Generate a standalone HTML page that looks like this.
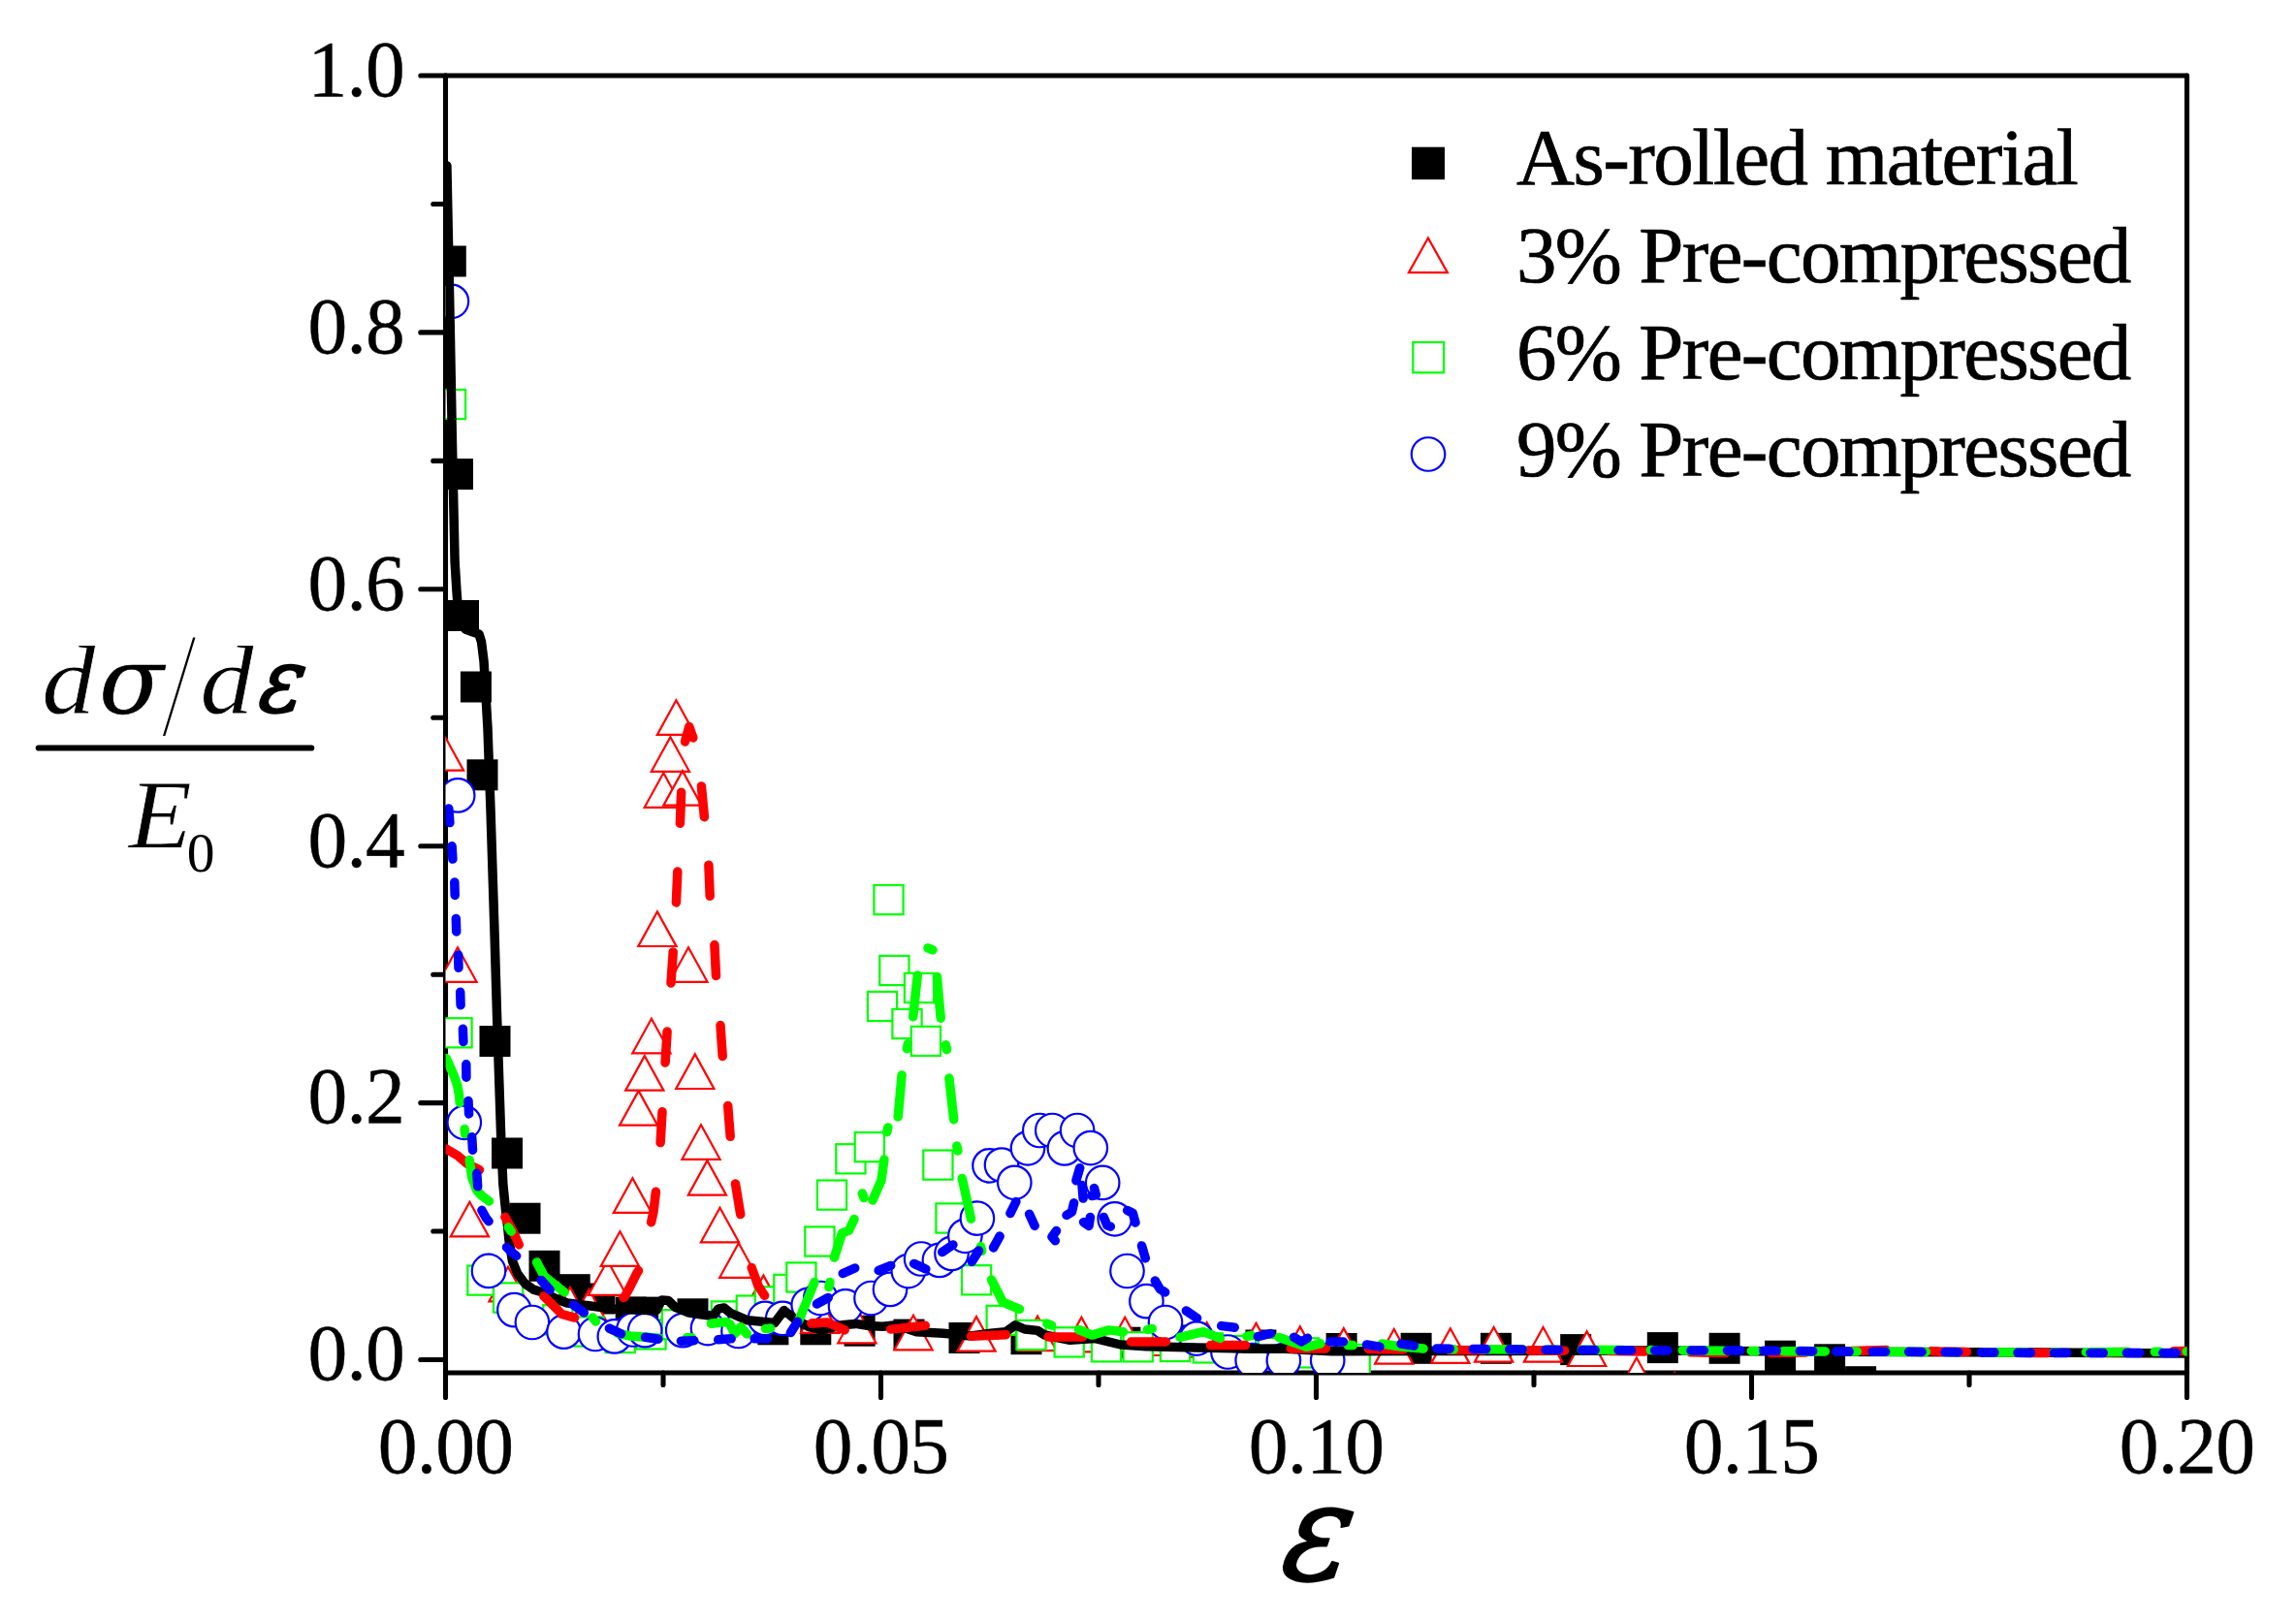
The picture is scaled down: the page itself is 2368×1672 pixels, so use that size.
<!DOCTYPE html>
<html><head><meta charset="utf-8"><title>Strain hardening rate</title>
<style>
html,body{margin:0;padding:0;background:#fff;}
body{width:2368px;height:1672px;overflow:hidden;}
svg{display:block;}
text{font-family:"Liberation Serif","DejaVu Serif",serif;fill:#000;}
.tick{font-size:81.5px;letter-spacing:-0.8px;stroke:#000;stroke-width:0.4px;}
.leg{font-size:83px;letter-spacing:-1.55px;stroke:#000;stroke-width:0.7px;}
.it{font-style:italic;}
.bs{fill:#000;}
.rt{fill:#fff;stroke:#f00;stroke-width:2.2;stroke-linejoin:miter;}
.gs{fill:#fff;stroke:#0f0;stroke-width:2.2;}
.bc{fill:#fff;stroke:#00f;stroke-width:2.2;}
.ln{fill:none;stroke-width:9.5;stroke-linecap:round;stroke-linejoin:round;}
</style></head><body>
<svg width="2368" height="1672" viewBox="0 0 2368 1672">
<rect x="0" y="0" width="2368" height="1672" fill="#fff"/>
<defs><clipPath id="plot"><rect x="459.5" y="78" width="1796" height="1338"/></clipPath></defs>

<g stroke="#000" stroke-linecap="round" fill="none">
<line x1="459.5" y1="78.0" x2="2255.5" y2="78.0" stroke-width="5.1"/>
<line x1="459.5" y1="1416.0" x2="2255.5" y2="1416.0" stroke-width="5.1"/>
<line x1="459.5" y1="78.0" x2="459.5" y2="1416.0" stroke-width="5.1"/>
<line x1="2255.5" y1="78.0" x2="2255.5" y2="1416.0" stroke-width="5.1"/>
<line x1="459.5" y1="1402.5" x2="433.8" y2="1402.5" stroke-width="5.1"/>
<line x1="459.5" y1="1270.0" x2="446.8" y2="1270.0" stroke-width="5.1"/>
<line x1="459.5" y1="1137.6" x2="433.8" y2="1137.6" stroke-width="5.1"/>
<line x1="459.5" y1="1005.2" x2="446.8" y2="1005.2" stroke-width="5.1"/>
<line x1="459.5" y1="872.7" x2="433.8" y2="872.7" stroke-width="5.1"/>
<line x1="459.5" y1="740.2" x2="446.8" y2="740.2" stroke-width="5.1"/>
<line x1="459.5" y1="607.8" x2="433.8" y2="607.8" stroke-width="5.1"/>
<line x1="459.5" y1="475.4" x2="446.8" y2="475.4" stroke-width="5.1"/>
<line x1="459.5" y1="342.9" x2="433.8" y2="342.9" stroke-width="5.1"/>
<line x1="459.5" y1="210.5" x2="446.8" y2="210.5" stroke-width="5.1"/>
<line x1="459.5" y1="78.0" x2="433.8" y2="78.0" stroke-width="5.1"/>
<line x1="459.5" y1="1416.0" x2="459.5" y2="1441.4" stroke-width="5.1"/>
<line x1="684.0" y1="1416.0" x2="684.0" y2="1428.5" stroke-width="5.1"/>
<line x1="908.5" y1="1416.0" x2="908.5" y2="1441.4" stroke-width="5.1"/>
<line x1="1133.0" y1="1416.0" x2="1133.0" y2="1428.5" stroke-width="5.1"/>
<line x1="1357.5" y1="1416.0" x2="1357.5" y2="1441.4" stroke-width="5.1"/>
<line x1="1582.0" y1="1416.0" x2="1582.0" y2="1428.5" stroke-width="5.1"/>
<line x1="1806.5" y1="1416.0" x2="1806.5" y2="1441.4" stroke-width="5.1"/>
<line x1="2031.0" y1="1416.0" x2="2031.0" y2="1428.5" stroke-width="5.1"/>
<line x1="2255.5" y1="1416.0" x2="2255.5" y2="1441.4" stroke-width="5.1"/>
</g>
<g clip-path="url(#plot)">
<g class="bs">
<rect x="448.8" y="253.5" width="32" height="32"/>
<rect x="456" y="473" width="32" height="32"/>
<rect x="462" y="619" width="32" height="32"/>
<rect x="474.9" y="692.5" width="32" height="32"/>
<rect x="481.5" y="783.3" width="32" height="32"/>
<rect x="494.5" y="1058" width="32" height="32"/>
<rect x="507" y="1173.5" width="32" height="32"/>
<rect x="525.5" y="1240.7" width="32" height="32"/>
<rect x="545.5" y="1289.8" width="32" height="32"/>
<rect x="576.7" y="1314.2" width="32" height="32"/>
<rect x="602.3" y="1323.5" width="32" height="32"/>
<rect x="634.7" y="1337.6" width="32" height="32"/>
<rect x="647.1" y="1337.6" width="32" height="32"/>
<rect x="698.5" y="1339.3" width="32" height="32"/>
<rect x="781.4" y="1355.3" width="32" height="32"/>
<rect x="825.3" y="1355.3" width="32" height="32"/>
<rect x="870.6" y="1356.7" width="32" height="32"/>
<rect x="921.5" y="1360.6" width="32" height="32"/>
<rect x="978.5" y="1364" width="32" height="32"/>
<rect x="1042.5" y="1365.2" width="32" height="32"/>
<rect x="1144.4" y="1368.7" width="32" height="32"/>
<rect x="1206" y="1366.5" width="32" height="32"/>
<rect x="1284.4" y="1371.5" width="32" height="32"/>
<rect x="1367.6" y="1375" width="32" height="32"/>
<rect x="1444.6" y="1374.8" width="32" height="32"/>
<rect x="1526.9" y="1374.8" width="32" height="32"/>
<rect x="1609.2" y="1376.1" width="32" height="32"/>
<rect x="1698.8" y="1374.1" width="32" height="32"/>
<rect x="1762.6" y="1374.8" width="32" height="32"/>
<rect x="1820.1" y="1382.7" width="32" height="32"/>
<rect x="1871.1" y="1386.3" width="32" height="32"/>
<rect x="1903.1" y="1409.2" width="32" height="32"/>
</g>
<g class="rt">
<path d="M458.5 759.1L438.9 794.7H478.1Z"/>
<path d="M472 977.2L452.4 1012.8H491.6Z"/>
<path d="M484.4 1239.7L464.8 1275.3H504Z"/>
<path d="M504.4 1294.2L484.8 1329.8H524Z"/>
<path d="M524 1306.7L504.4 1342.3H543.6Z"/>
<path d="M588 1327.7L568.4 1363.3H607.6Z"/>
<path d="M607.5 1330.1L587.9 1365.7H627.1Z"/>
<path d="M626.5 1300.2L606.9 1335.8H646.1Z"/>
<path d="M639.4 1270.2L619.8 1305.8H659Z"/>
<path d="M652.4 1215.3L632.8 1250.9H672Z"/>
<path d="M658.6 1125.1L639 1160.7H678.2Z"/>
<path d="M664.8 1089.1L645.2 1124.7H684.4Z"/>
<path d="M671.9 1050.7L652.3 1086.3H691.5Z"/>
<path d="M677.9 940.4L658.3 976H697.5Z"/>
<path d="M684.3 797.2L664.7 832.8H703.9Z"/>
<path d="M691.4 760.2L671.8 795.8H711Z"/>
<path d="M697.4 722.3L677.8 757.9H717Z"/>
<path d="M703.9 795.1L684.3 830.7H723.5Z"/>
<path d="M710 977.2L690.4 1012.8H729.6Z"/>
<path d="M716.8 1087.4L697.2 1123H736.4Z"/>
<path d="M723 1160.2L703.4 1195.8H742.6Z"/>
<path d="M729.4 1197.1L709.8 1232.7H749Z"/>
<path d="M742.5 1245.7L722.9 1281.3H762.1Z"/>
<path d="M761.8 1282.2L742.2 1317.8H781.4Z"/>
<path d="M787.4 1315.6L767.8 1351.2H807Z"/>
<path d="M845.5 1339.2L825.9 1374.8H865.1Z"/>
<path d="M883.9 1349.7L864.3 1385.3H903.5Z"/>
<path d="M942 1356.7L922.4 1392.3H961.6Z"/>
<path d="M1007 1358.1L987.4 1393.7H1026.6Z"/>
<path d="M1070.1 1357.6L1050.5 1393.2H1089.7Z"/>
<path d="M1115.4 1358.8L1095.8 1394.4H1135Z"/>
<path d="M1160.2 1358.8L1140.6 1394.4H1179.8Z"/>
<path d="M1203 1362.4L1183.4 1398H1222.6Z"/>
<path d="M1244.7 1364L1225.1 1399.6H1264.3Z"/>
<path d="M1295.5 1364.9L1275.9 1400.5H1315.1Z"/>
<path d="M1340.8 1368.4L1321.2 1404H1360.4Z"/>
<path d="M1385.8 1370.1L1366.2 1405.7H1405.4Z"/>
<path d="M1437.7 1371L1418.1 1406.6H1457.3Z"/>
<path d="M1495.8 1370.3L1476.2 1405.9H1515.4Z"/>
<path d="M1540.6 1369L1521 1404.6H1560.2Z"/>
<path d="M1591.5 1369L1571.9 1404.6H1611.1Z"/>
<path d="M1636.6 1373.4L1617 1409H1656.2Z"/>
<path d="M1687.9 1400.5L1668.3 1436.1H1707.5Z"/>
<path d="M1727.2 1416L1707.6 1451.6H1746.8Z"/>
</g>
<g class="gs">
<rect x="449.9" y="401.9" width="30.2" height="30.2"/>
<rect x="456.4" y="1050.2" width="30.2" height="30.2"/>
<rect x="482.3" y="1305.5" width="30.2" height="30.2"/>
<rect x="509" y="1323.4" width="30.2" height="30.2"/>
<rect x="560.2" y="1346.2" width="30.2" height="30.2"/>
<rect x="592.4" y="1358.4" width="30.2" height="30.2"/>
<rect x="624.6" y="1364.9" width="30.2" height="30.2"/>
<rect x="656.4" y="1361.3" width="30.2" height="30.2"/>
<rect x="682.8" y="1351.1" width="30.2" height="30.2"/>
<rect x="733.8" y="1342.4" width="30.2" height="30.2"/>
<rect x="759.7" y="1336.5" width="30.2" height="30.2"/>
<rect x="778.8" y="1327.3" width="30.2" height="30.2"/>
<rect x="798.3" y="1314.8" width="30.2" height="30.2"/>
<rect x="811.3" y="1302.4" width="30.2" height="30.2"/>
<rect x="830.3" y="1265.4" width="30.2" height="30.2"/>
<rect x="842.9" y="1217.5" width="30.2" height="30.2"/>
<rect x="862.3" y="1180.2" width="30.2" height="30.2"/>
<rect x="881.7" y="1168.1" width="30.2" height="30.2"/>
<rect x="894.9" y="1022.9" width="30.2" height="30.2"/>
<rect x="901.4" y="913" width="30.2" height="30.2"/>
<rect x="907.3" y="985.9" width="30.2" height="30.2"/>
<rect x="920.4" y="1040.9" width="30.2" height="30.2"/>
<rect x="932.9" y="1003.9" width="30.2" height="30.2"/>
<rect x="939.8" y="1058.8" width="30.2" height="30.2"/>
<rect x="952.3" y="1186.5" width="30.2" height="30.2"/>
<rect x="965.4" y="1241.4" width="30.2" height="30.2"/>
<rect x="992" y="1305.2" width="30.2" height="30.2"/>
<rect x="1017.6" y="1346.8" width="30.2" height="30.2"/>
<rect x="1048.4" y="1361.9" width="30.2" height="30.2"/>
<rect x="1087.6" y="1369.3" width="30.2" height="30.2"/>
<rect x="1125.9" y="1374.2" width="30.2" height="30.2"/>
<rect x="1158.6" y="1374.2" width="30.2" height="30.2"/>
<rect x="1196.9" y="1373.9" width="30.2" height="30.2"/>
<rect x="1230.8" y="1375.3" width="30.2" height="30.2"/>
<rect x="1264.9" y="1377.9" width="30.2" height="30.2"/>
<rect x="1297.9" y="1379.9" width="30.2" height="30.2"/>
<rect x="1329.9" y="1380.3" width="30.2" height="30.2"/>
<rect x="1382.6" y="1386.9" width="30.2" height="30.2"/>
</g>
<g class="bc">
<circle cx="465.9" cy="310.8" r="17.25"/>
<circle cx="472.2" cy="820.4" r="17.25"/>
<circle cx="478.8" cy="1157.8" r="17.25"/>
<circle cx="504" cy="1310.9" r="17.25"/>
<circle cx="530.4" cy="1351.2" r="17.25"/>
<circle cx="548.9" cy="1364" r="17.25"/>
<circle cx="581.5" cy="1373.7" r="17.25"/>
<circle cx="614" cy="1376" r="17.25"/>
<circle cx="633.8" cy="1378.4" r="17.25"/>
<circle cx="653.3" cy="1371.5" r="17.25"/>
<circle cx="665.2" cy="1372.2" r="17.25"/>
<circle cx="704.2" cy="1372.2" r="17.25"/>
<circle cx="730" cy="1370.1" r="17.25"/>
<circle cx="761.5" cy="1373" r="17.25"/>
<circle cx="789" cy="1359.9" r="17.25"/>
<circle cx="807.2" cy="1359.9" r="17.25"/>
<circle cx="833.7" cy="1345.9" r="17.25"/>
<circle cx="846.2" cy="1339" r="17.25"/>
<circle cx="872" cy="1347.3" r="17.25"/>
<circle cx="898.5" cy="1339" r="17.25"/>
<circle cx="918" cy="1329.9" r="17.25"/>
<circle cx="936.8" cy="1311.1" r="17.25"/>
<circle cx="950.1" cy="1298.5" r="17.25"/>
<circle cx="968.9" cy="1299.9" r="17.25"/>
<circle cx="981.5" cy="1292.9" r="17.25"/>
<circle cx="995.4" cy="1274.8" r="17.25"/>
<circle cx="1007.9" cy="1256.7" r="17.25"/>
<circle cx="1020.5" cy="1202.3" r="17.25"/>
<circle cx="1033" cy="1201.6" r="17.25"/>
<circle cx="1046.3" cy="1219.8" r="17.25"/>
<circle cx="1060" cy="1184.3" r="17.25"/>
<circle cx="1072.3" cy="1166" r="17.25"/>
<circle cx="1085.3" cy="1166" r="17.25"/>
<circle cx="1097.9" cy="1184.4" r="17.25"/>
<circle cx="1111.1" cy="1166" r="17.25"/>
<circle cx="1124.8" cy="1184.1" r="17.25"/>
<circle cx="1137.2" cy="1219.9" r="17.25"/>
<circle cx="1149.7" cy="1257.3" r="17.25"/>
<circle cx="1162.5" cy="1311" r="17.25"/>
<circle cx="1182.4" cy="1342.2" r="17.25"/>
<circle cx="1202" cy="1364" r="17.25"/>
<circle cx="1234.2" cy="1380.6" r="17.25"/>
<circle cx="1266.4" cy="1394.5" r="17.25"/>
<circle cx="1291.7" cy="1403.2" r="17.25"/>
<circle cx="1323.9" cy="1403.2" r="17.25"/>
<circle cx="1369.2" cy="1403.2" r="17.25"/>
</g>
<path class="ln" stroke="#000" d="M460.9 171L462.5 250L464.5 350L466.3 450L467.9 523.7L469.1 579.4L471 610L472.5 630L474 642L480 649L488 652L494 654L496.5 662L499 681.8L503 751.5L506 835.2L509.7 951.5L512.6 1049L514.6 1109.7L516.7 1172.5L518.8 1221L521.6 1249L523.7 1266L524.9 1278.7L528.4 1300.5L533.6 1313.6L541.5 1324L550.2 1330.1L558.9 1332.7L572 1338.8L585 1344L606.8 1346.7L632.9 1350L655 1351L674.5 1351.8L677.2 1351.5L682.4 1341L689.3 1341.5L696.3 1348.4L709.4 1353.7L722.4 1355.8L735.5 1357.6L740.7 1350.2L746.8 1348.9L752.9 1354L761.6 1357.8L770.9 1361.8L798.8 1364.6L808.6 1351.6L819.7 1360.5L833.7 1368.3L847.6 1372L868.5 1366.8L882.5 1365.4L896.4 1367.5L910.3 1368.2L924.3 1366.8L945.2 1373.8L973.1 1375.2L1001 1378L1021.9 1375.2L1037.2 1373.8L1047 1366.8L1056.8 1371L1070 1372.4L1077.4 1377L1103.6 1382.3L1129.7 1380.6L1155.8 1387L1182 1388.8L1234.2 1390L1286.5 1391.2L1321.3 1391L1373.6 1393.7L1460 1393.6L1700 1393L1900 1394.3L2100 1395L2255.5 1396"/>
<path class="ln" stroke="#f00" d="M460.2 1185L472 1192L481.8 1200.3L494.5 1206.7M520.9 1255.3L529.2 1270.4L535.3 1283.9M560.8 1336.9L569.7 1345.7L579.4 1355.5L592.6 1359.1M643 1338.4L644 1338L650.1 1326.7L657.1 1312.7L658.5 1310.8M671.6 1260.8L674 1250L676.4 1229.2M681.1 1178.6L683 1146.7M686.1 1096L688.1 1064M692 1013.9L694.2 981.9M697.4 930.9L698.8 899M701.4 849.3L702.6 817.3M706.5 765L710.8 749.5L714.8 761M723.4 810.9L726.4 842.7M730.9 892.3L732.2 924.3M736.9 974.6L738.5 1006.6M743 1057.5L745.2 1089.5M750.7 1140.5L753.2 1172.3M758.5 1221L763.7 1252.6M775.2 1307.5L782 1326.4L788.6 1336.3M836.9 1365.1L853.2 1364L871.2 1371.9M918.6 1371.1L954.3 1367.2M1001.5 1378.3L1037.4 1376.8M1081 1379L1117 1379M1166.5 1384L1202.5 1384M1248.5 1387.6L1284.5 1387.6M1331.2 1391L1367.2 1391"/>
<path class="ln" stroke="#f00" stroke-dasharray="36 47" stroke-dashoffset="0" d="M1411.6 1391.5L1460 1392.3L1600 1393L1700 1394L1800 1396L1860 1395L1960 1392L2000 1394L2100 1395.5L2200 1394.5L2262 1393.5"/>
<path class="ln" stroke="#0f0" d="M460.2 1091.6L464.5 1101L468.8 1111L471.8 1120L473.5 1129L474.2 1137.4M479.2 1164.5L479.5 1169.5M484.2 1196.5L486.7 1214.3L491.6 1227.5L497 1233.5L504.5 1239M524.3 1265.9L527.2 1270.1M553.6 1301.9L561.3 1316.4L582.1 1332.9M611.3 1359L614.5 1363M637.1 1375.4L650 1378L679.8 1380.2M708.5 1379.8L713.5 1379.8M733.5 1365.3L748.6 1363.5L753 1366L757.6 1375.8L764 1368.8L770.5 1376M789.5 1370.6L794.5 1370M823.8 1362.3L840 1322.5M854.9 1327.5L855.9 1322.5M860.5 1297L868.5 1272L875.5 1269.2L881 1257.5M889.3 1230.9L891 1235.6M900 1238L908.9 1217.6L911.9 1196M914.7 1167.7L915.8 1162.9M926.2 1151.9L930.1 1109M935.3 1081.7L936.4 1076.8M941.7 1048.8L946.3 1006M957 977.8L962 979.8M966.4 1007.4L970.2 1050.2M975.4 1077.8L976.5 1082.7M978.9 1112.1L983.7 1154.8M986.8 1182.1L987.9 1186.9M992.3 1215.4L1001.5 1257.3M1011.5 1285.6L1012.7 1290.4M1022.6 1320L1034.4 1343.1L1051.5 1350.3M1079.9 1365.2L1084.6 1367.1M1112.5 1371.5L1126.2 1377.1L1143.6 1371.9L1158.5 1373.8M1183.5 1371.4L1188.3 1370.4M1217 1379.3L1241.2 1373.6L1258.4 1380.4M1286 1378.3L1291 1377.5M1319 1379.5L1347.5 1389.3L1361.9 1385.8M1390.3 1387.6L1395.3 1387.6M1425.3 1386L1445 1389L1468 1391"/>
<path class="ln" stroke="#0f0" stroke-dasharray="5 28 43 28" stroke-dashoffset="0" d="M1494.3 1391.8L1600 1392L1700 1392.6L1800 1393.5L1900 1394L2000 1394.5L2100 1395L2200 1394.5L2262 1394"/>
<path class="ln" stroke="#00f" d="M462.8 834L463.9 848.6M466.1 872.7L466.9 886.1M468.8 910L469.2 923.4M470.3 947.5L470.7 960.9M472.6 984.9L473 998.3M474.7 1023.3L475.1 1036.7M477.4 1061.2L477.9 1074.6M480.8 1097.8L480.9 1111.2M483 1135.4L483.6 1148.9M486.7 1172.7L487.5 1186.2M491.8 1210.3L492.7 1223.8M496.9 1248.3L501.4 1256.5L504.1 1259.7M522.5 1286.5L529.2 1292.7L532.6 1295.4M558.2 1320.5L567.2 1330.5M591.4 1345.9L602.3 1353.9M628.4 1370.1L640.6 1375.7M665.5 1379.3L678.8 1381.2M702.4 1383.3L715.8 1382.8M740.7 1381.8L754.2 1380.8M778.1 1380.8L791.6 1380.8M815.4 1374.6L822.6 1363.3M842.4 1345L854.2 1338.5M869.3 1313.5L881.7 1308M906.2 1310.4L918.7 1305.4M942.6 1303.4L954.8 1309M971.7 1291.5L982.9 1283.9M1002.3 1301.4L1009.5 1290M1024.6 1286.9L1031.1 1275.1M1041.9 1251.6L1047.9 1239.5M1061.6 1252.2L1067.2 1264.4M1089.5 1269.5L1085 1275.8L1088.3 1279.8M1100 1253.4L1105.5 1249.9L1107.6 1240.8M1113.7 1204.7L1109.9 1217.7M1116 1222.6L1117.1 1236.1M1128.5 1225.5L1130.3 1232.5L1126 1233.5M1124.4 1255.5L1123 1264.5L1117.6 1260.6M1138.3 1255.5L1141.8 1263.8L1145.3 1265.2M1162.7 1248.5L1168.3 1251.3L1171 1261M1177.5 1284.9L1181.3 1297.8M1191.3 1321L1196.2 1329.4L1201.7 1332.9M1223.4 1352L1234.6 1359.6M1259.7 1367.6L1273.2 1369.2M1297.3 1378.7L1310.5 1375.5M1334.5 1379.3L1342.2 1384L1348.5 1380.2M1372 1384L1385.5 1384M1409.6 1386.9L1422.9 1389.1M1445 1386.1L1458.3 1388.1"/>
<path class="ln" stroke="#00f" stroke-dasharray="13.5 23.95" stroke-dashoffset="0" d="M1481.8 1391L1600 1392.3L1700 1393L1800 1393L1900 1394L2000 1394.5L2100 1395.5L2200 1395.5L2262 1395.5"/>
</g>
<text class="tick" x="417" y="1423.3" text-anchor="end">0.0</text>
<text class="tick" x="417" y="1158.4" text-anchor="end">0.2</text>
<text class="tick" x="417" y="893.5" text-anchor="end">0.4</text>
<text class="tick" x="417" y="628.6" text-anchor="end">0.6</text>
<text class="tick" x="417" y="363.7" text-anchor="end">0.8</text>
<text class="tick" x="417" y="98.8" text-anchor="end">1.0</text>
<text class="tick" x="459.5" y="1518.5" text-anchor="middle">0.00</text>
<text class="tick" x="908.5" y="1518.5" text-anchor="middle">0.05</text>
<text class="tick" x="1357.5" y="1518.5" text-anchor="middle">0.10</text>
<text class="tick" x="1806.5" y="1518.5" text-anchor="middle">0.15</text>
<text class="tick" x="2255.5" y="1518.5" text-anchor="middle">0.20</text>
<rect x="1456" y="151.7" width="34" height="33.5" fill="#000"/>
<path d="M1472.9 245.5L1452.9 281.1H1492.9Z" fill="none" stroke="#f00" stroke-width="2.2"/>
<rect x="1457.3" y="353" width="31.8" height="31.3" fill="none" stroke="#0f0" stroke-width="2.2"/>
<circle cx="1473" cy="468.5" r="17.25" fill="none" stroke="#00f" stroke-width="2.2"/>
<text class="leg" x="1564" y="190.4">As-rolled material</text>
<text class="leg" x="1564" y="290.7" style="letter-spacing:-1.7px">3% Pre-compressed</text>
<text class="leg" x="1564" y="391.0" style="letter-spacing:-1.7px">6% Pre-compressed</text>
<text class="leg" x="1564" y="491.3" style="letter-spacing:-1.7px">9% Pre-compressed</text>
<text class="it" transform="translate(43.0 735.6) scale(1.09 1)" font-size="101.6" style="stroke:#fff;stroke-width:0.8;">d</text>
<text class="it" transform="translate(102.3 735.6) scale(1.024 1)" font-size="95.1" style="font-family:'DejaVu Serif','Liberation Serif',serif;stroke:#000;stroke-width:0.6;stroke-linejoin:round;">σ</text>
<text x="163.2" y="748.7" font-size="127.5" style="font-family:'DejaVu Sans Light','DejaVu Sans',sans-serif;font-weight:200;stroke:#fff;stroke-width:4;stroke-linejoin:miter">/</text>
<text class="it" transform="translate(206.3 735.6) scale(1.09 1)" font-size="101.6" style="stroke:#fff;stroke-width:0.8;">d</text>
<text class="it" transform="translate(264.7 733.6) skewX(-9) scale(0.93 1)" font-size="92" style="font-family:'DejaVu Serif','Liberation Serif',serif;stroke:#000;stroke-width:2;stroke-linejoin:round;">ε</text>
<line x1="39.8" y1="771.5" x2="321.2" y2="771.5" stroke="#000" stroke-width="6.2" stroke-linecap="round"/>
<text class="it" transform="translate(132.8 874.5) scale(1.06 1)" font-size="100.6" style="stroke:#fff;stroke-width:0.8;">E</text>
<text class="" transform="translate(192.8 899.4) scale(1.0 1)" font-size="57.5">0</text>
<text class="it" transform="translate(1318.8 1629) skewX(-9) scale(0.943 1)" font-size="140" style="font-family:'DejaVu Serif','Liberation Serif',serif;stroke:#000;stroke-width:2;stroke-linejoin:round;">ε</text>
</svg></body></html>
